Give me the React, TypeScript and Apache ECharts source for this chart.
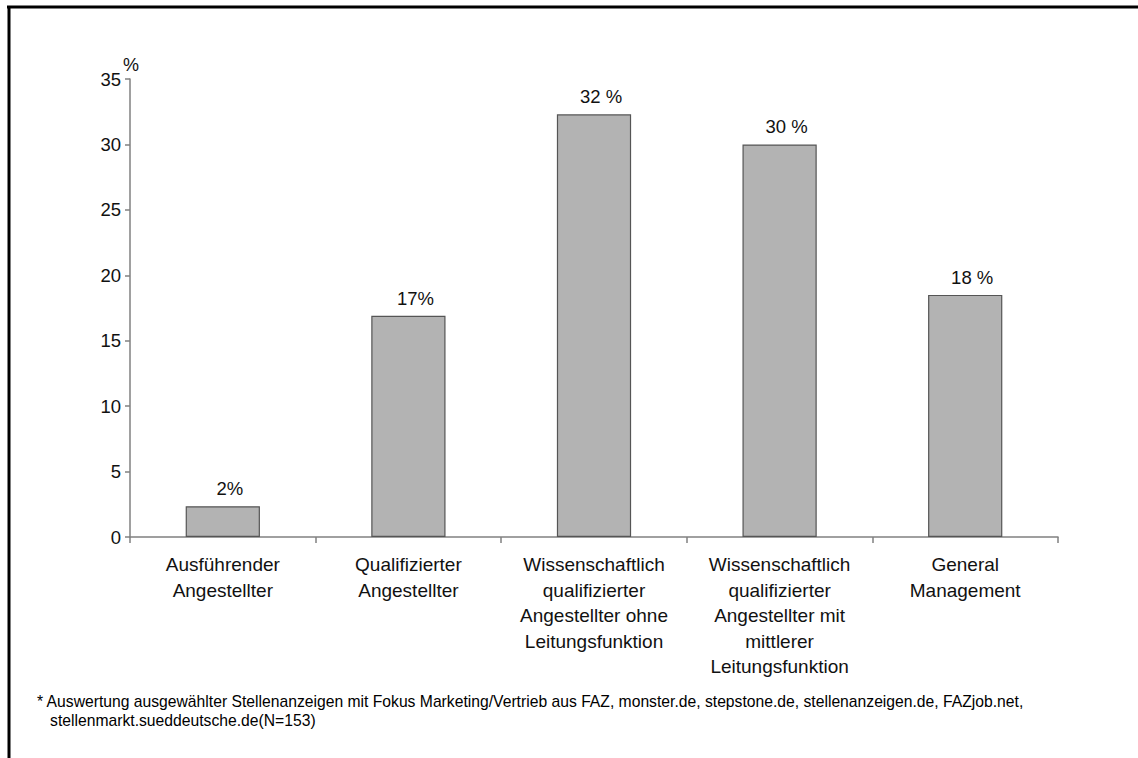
import React, { useEffect, useRef } from "react";
import * as echarts from "echarts";

const categories = [
  "Ausführender\nAngestellter",
  "Qualifizierter\nAngestellter",
  "Wissenschaftlich\nqualifizierter\nAngestellter ohne\nLeitungsfunktion",
  "Wissenschaftlich\nqualifizierter\nAngestellter mit\nmittlerer\nLeitungsfunktion",
  "General\nManagement",
];
const values = [2.35, 16.9, 32.3, 30.0, 18.5];
const valueLabels = ["2%", "17%", "32 %", "30 %", "18 %"];
const yTicks = { min: 0, max: 35, interval: 5 };
const unitLabel = "%";
const footnote =
  "* Auswertung ausgewählter Stellenanzeigen mit Fokus Marketing/Vertrieb aus FAZ, monster.de, stepstone.de, stellenanzeigen.de, FAZjob.net,\n   stellenmarkt.sueddeutsche.de(N=153)";

const FONT = "'Liberation Sans', Arial, sans-serif";

export default function App() {
  const ref = useRef<HTMLDivElement>(null);
  useEffect(() => {
    if (!ref.current) return;
    const chart = echarts.init(ref.current, null, { renderer: "svg" });
    chart.setOption({
      animation: false,
      backgroundColor: "#ffffff",
      textStyle: { fontFamily: FONT },
      grid: { left: 130, right: 80, top: 79, bottom: 221, containLabel: false },
      xAxis: {
        type: "category",
        data: categories,
        axisLine: { lineStyle: { color: "#808080", width: 1.5 } },
        axisTick: { show: true, length: 6, lineStyle: { color: "#808080", width: 1.5 } },
        axisLabel: {
          color: "#111",
          fontSize: 19,
          lineHeight: 25.5,
          margin: 15,
          interval: 0,
          fontFamily: FONT,
        },
      },
      yAxis: {
        type: "value",
        min: yTicks.min,
        max: yTicks.max,
        interval: yTicks.interval,
        splitLine: { show: false },
        axisLine: { show: true, lineStyle: { color: "#808080", width: 1.5 } },
        axisTick: { show: true, length: 5, lineStyle: { color: "#808080", width: 1.5 } },
        axisLabel: { color: "#111", fontSize: 18.5, margin: 9, fontFamily: FONT },
      },
      series: [
        {
          type: "bar",
          data: values,
          barWidth: "40%",
          itemStyle: { color: "#b3b3b3", borderColor: "#555555", borderWidth: 1.2 },
          label: {
            show: true,
            position: "top",
            distance: 8,
            offset: [7, 0],
            color: "#111",
            fontSize: 18.5,
            fontFamily: FONT,
            formatter: (p: any) => valueLabels[p.dataIndex],
          },
        },
      ],
      graphic: [
        { type: "line", shape: { x1: 7, y1: 7, x2: 1138, y2: 7 }, style: { stroke: "#000", lineWidth: 3 } },
        { type: "line", shape: { x1: 9, y1: 6, x2: 9, y2: 758 }, style: { stroke: "#000", lineWidth: 3 } },
        {
          type: "text",
          x: 123,
          y: 56,
          style: { text: unitLabel, fill: "#111", fontSize: 18, fontFamily: FONT },
        },
        {
          type: "text",
          x: 37,
          y: 692,
          style: { text: footnote, fill: "#000", fontSize: 15.7, lineHeight: 19, fontFamily: FONT },
        },
      ],
    });
    return () => chart.dispose();
  }, []);
  return (
    <div
      ref={ref}
      style={{ position: "fixed", left: 0, top: 0, width: 1138, height: 758, background: "#fff" }}
    />
  );
}
